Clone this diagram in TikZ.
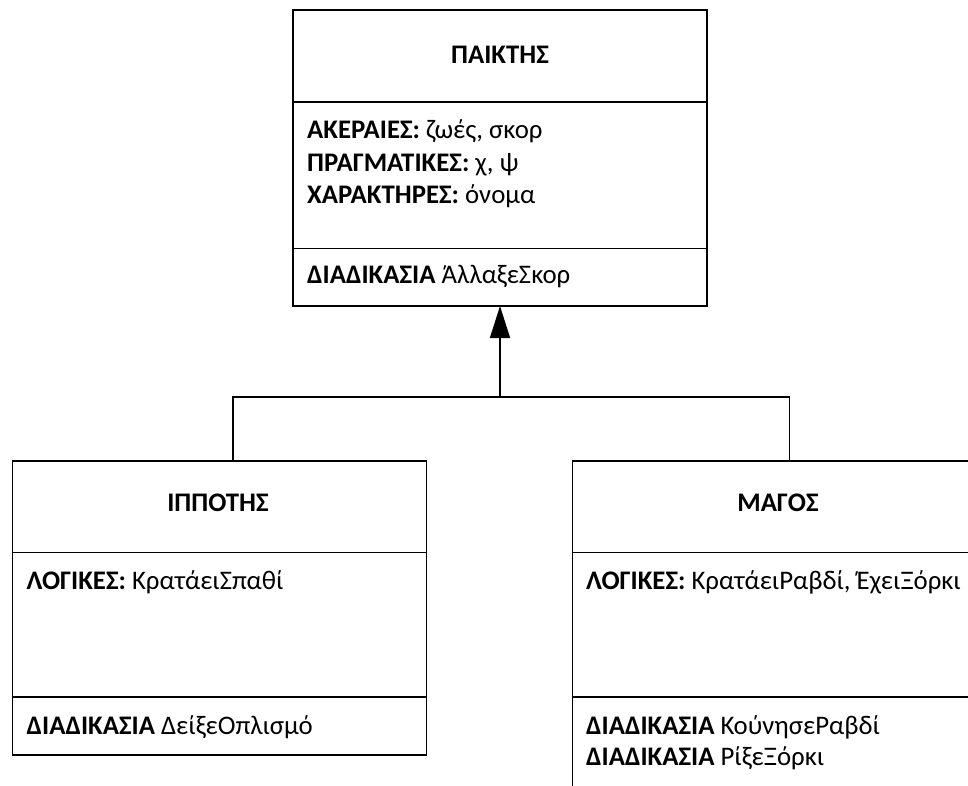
\documentclass[tikz,border=0pt]{standalone}
\usepackage{fontspec}
\setmainfont{Carlito}
\usetikzlibrary{arrows.meta}
\begin{document}
\begin{tikzpicture}[x=1pt,y=-1pt,
  classbox/.style={draw=black,line width=1.6pt,minimum width=414pt,outer sep=0pt,inner sep=0pt,anchor=north west},
  sepline/.style={line width=1.6pt},
  conn/.style={line width=1.6pt},
  txt/.style={inner sep=0pt,anchor=base west,font=\fontsize{26.8}{31}\selectfont},
  ttl/.style={inner sep=0pt,anchor=base,font=\fontsize{26.8}{31}\selectfont\bfseries}]
\useasboundingbox (0,0) rectangle (968,785);
\clip (0,0) rectangle (968,785);
\fill[white] (0,0) rectangle (968,785);
% boxes
\node[classbox,minimum height=296pt] (pk) at (293,10) {};
\node[classbox,minimum height=294pt] (ip) at (12.3,461) {};
\node[classbox,minimum height=360pt] (mg) at (572.3,461) {};
% separators
\draw[sepline] (pk.west |- 0,102) -- (pk.east |- 0,102);
\draw[sepline] (pk.west |- 0,248.3) -- (pk.east |- 0,248.3);
\draw[sepline] (ip.west |- 0,552.3) -- (ip.east |- 0,552.3);
\draw[sepline] (ip.west |- 0,696.7) -- (ip.east |- 0,696.7);
\draw[sepline] (mg.west |- 0,552.3) -- (mg.east |- 0,552.3);
\draw[sepline] (mg.west |- 0,696.7) -- (mg.east |- 0,696.7);
% texts: top
\node[ttl] (pkt) at (500,63.3) {ΠΑΙΚΤΗΣ};
\node[txt] (pka1) at (307,138.3) {\textbf{ΑΚΕΡΑΙΕΣ:} ζωές, σκορ};
\node[txt] (pka2) at (307,171) {\textbf{ΠΡΑΓΜΑΤΙΚΕΣ:} χ, ψ};
\node[txt] (pka3) at (307,203.3) {\textbf{ΧΑΡΑΚΤΗΡΕΣ:} όνομα};
\node[txt] (pkm1) at (307,283.3) {\textbf{ΔΙΑΔΙΚΑΣΙΑ} ΆλλαξεΣκορ};
% left
\node[ttl] (ipt) at (218,511.7) {ΙΠΠΟΤΗΣ};
\node[txt] (ipa1) at (26.5,589) {\textbf{ΛΟΓΙΚΕΣ:} ΚρατάειΣπαθί};
\node[txt] (ipm1) at (26.5,734.3) {\textbf{ΔΙΑΔΙΚΑΣΙΑ} ΔείξεΟπλισμό};
% right
\node[ttl] (mgt) at (778,511.7) {ΜΑΓΟΣ};
\node[txt] (mga1) at (586,589) {\textbf{ΛΟΓΙΚΕΣ:} ΚρατάειΡαβδί, ΈχειΞόρκι};
\node[txt] (mgm1) at (586,734.3) {\textbf{ΔΙΑΔΙΚΑΣΙΑ} ΚούνησεΡαβδί};
\node[txt] (mgm2) at (586,765.7) {\textbf{ΔΙΑΔΙΚΑΣΙΑ} ΡίξεΞόρκι};
% connectors
\coordinate (jn) at (pk.south |- 0,396.7);
\coordinate (jl) at (233,396.7);
\coordinate (jr) at (789.3,396.7);
\draw[conn] (ip.north -| jl) -- (jl) -- (jr) -- (mg.north -| jr);
\draw[conn,-{Triangle[length=32pt,width=20pt]}] (jn) -- (pk.south);
\end{tikzpicture}
\end{document}
